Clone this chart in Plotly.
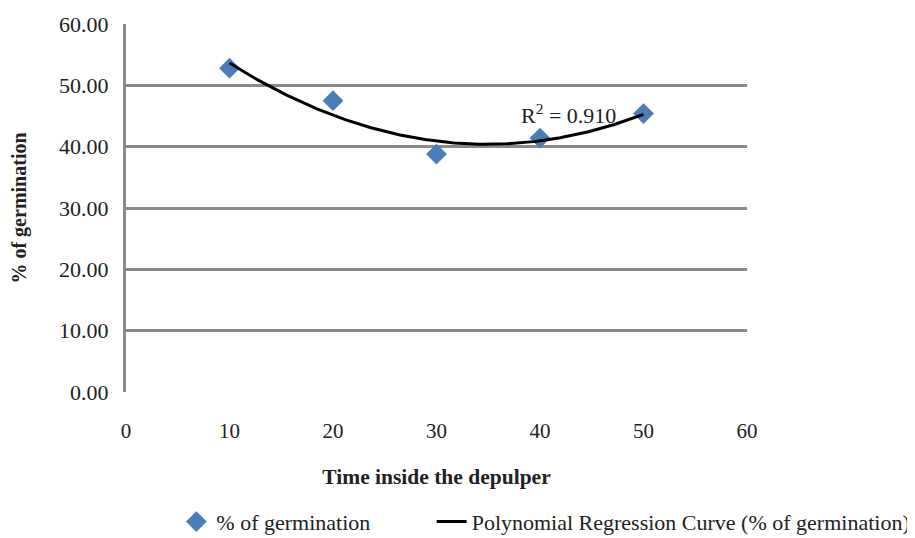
import numpy as np
import plotly.graph_objects as go

time_min = [10, 20, 30, 40, 50]
germination = [52.8, 47.5, 38.8, 41.4, 45.4]
y_ticks = [0, 10, 20, 30, 40, 50, 60]
x_ticks = [0, 10, 20, 30, 40, 50, 60]
r2_label = "R<sup>2</sup> = 0.910"

# second-order polynomial trendline fitted to the data
coef = np.polyfit(time_min, germination, 2)
xs = np.linspace(min(time_min), max(time_min), 200)
ys = np.polyval(coef, xs)

FONT = "Liberation Serif, Times New Roman, serif"
GRID = "#8a8a8a"

fig = go.Figure()
fig.add_trace(go.Scatter(
    x=time_min, y=germination, mode="markers", name="% of germination",
    marker=dict(symbol="diamond", size=16, color="#4a7ebb"), legend="legend",
))
fig.add_trace(go.Scatter(
    x=xs, y=ys, mode="lines",
    name="Polynomial Regression Curve (% of germination)",
    line=dict(color="black", width=3), legend="legend2",
))
fig.add_annotation(x=42.8, y=45.3, text=r2_label, showarrow=False,
                   font=dict(family=FONT, size=22, color="#222"))

leg_common = dict(orientation="h", xref="container", xanchor="left",
                  yref="container", y=0.045, yanchor="middle",
                  font=dict(family=FONT, size=22), bgcolor="rgba(0,0,0,0)")

fig.update_layout(
    width=915, height=538,
    margin=dict(l=118, r=176, t=16, b=154, autoexpand=False),
    paper_bgcolor="white", plot_bgcolor="white",
    font=dict(family=FONT, size=21, color="#222"),
    showlegend=True,
    legend=dict(x=0.184, **leg_common),
    legend2=dict(x=0.463, **leg_common),
    xaxis=dict(range=[0, 60], tickvals=x_ticks, showgrid=False, zeroline=False,
               showline=False, ticks="", ticklabelstandoff=24, automargin=False,
               title=dict(text="<b>Time inside the depulper</b>", standoff=26,
                          font=dict(family=FONT, size=21.5))),
    yaxis=dict(range=[0, 60], tickvals=y_ticks, tickformat=".2f",
               showgrid=True, gridcolor=GRID, gridwidth=3, automargin=False,
               zeroline=False, showline=True, linecolor=GRID, linewidth=3,
               ticks="", ticklabelstandoff=10,
               title=dict(text="<b>% of germination</b>", standoff=28,
                          font=dict(family=FONT, size=20)),
               tickfont=dict(family=FONT, size=22)),
)
fig.write_html("out.html")
